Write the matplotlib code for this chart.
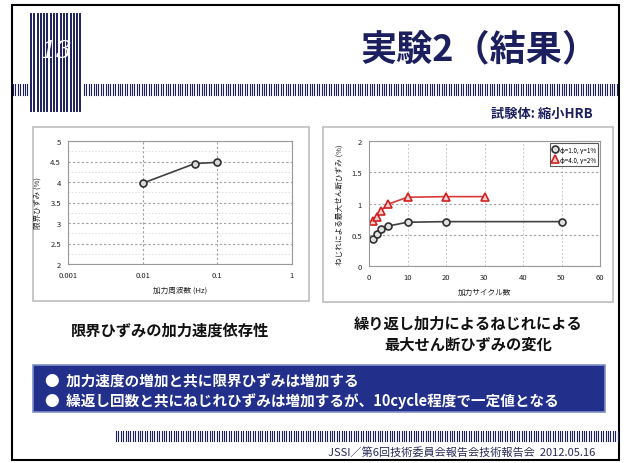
import numpy as np
import matplotlib.pyplot as plt
from matplotlib.patches import Rectangle
from matplotlib.ticker import FixedLocator

plt.rcParams['font.family'] = ['Noto Sans CJK JP', 'DejaVu Sans']

W, H = 626, 464
NAVY = '#1b1f5e'

# left chart: limit strain vs loading frequency
freq = [0.01, 0.05, 0.1]
limit_strain = [3.97, 4.45, 4.48]
freq_ticks = [0.001, 0.01, 0.1, 1]
freq_labels = ['0.001', '0.01', '0.1', '1']
strain_ticks = [2, 2.5, 3, 3.5, 4, 4.5, 5]
strain_labels = ['2', '2.5', '3', '3.5', '4', '4.5', '5']

# right chart: max shear strain vs number of cycles
cyc_a = [1, 2, 3, 5, 10, 20, 50]
strain_a = [0.44, 0.52, 0.60, 0.64, 0.70, 0.71, 0.71]
cyc_b = [1, 2, 3, 5, 10, 20, 30]
strain_b = [0.72, 0.79, 0.88, 0.99, 1.10, 1.11, 1.11]
cyc_ticks = [0, 10, 20, 30, 40, 50, 60]
shear_ticks = [0, 0.5, 1, 1.5, 2]
shear_labels = ['0', '0.5', '1', '1.5', '2']
legend_labels = ['φ=1.0, γ=1%', 'φ=4.0, γ=2%']


def box(x0, y0, x1, y1):
    # pixel box -> figure fraction rect
    return (x0 / W, 1 - y1 / H), (x1 - x0) / W, (y1 - y0) / H


def rect(fig, x0, y0, x1, y1, z=-1, **kw):
    xy, w, h = box(x0, y0, x1, y1)
    fig.patches.append(Rectangle(xy, w, h, transform=fig.transFigure, zorder=z, **kw))


def stripes(fig, x0, x1, y0, y1, step, lw, color):
    xs = np.arange(x0, x1, step) / W
    for x in xs:
        fig.add_artist(plt.Line2D([x, x], [1 - y0 / H, 1 - y1 / H], color=color,
                                  lw=lw, transform=fig.transFigure, zorder=-0.5))


fig = plt.figure(figsize=(W / 100, H / 100), dpi=100)

# slide frame
rect(fig, 12, 6, 619, 461, z=-2, facecolor='white', edgecolor='black', lw=1.5)

# header bands
stripes(fig, 13, 30, 85, 96, 2.4, 0.8, NAVY)
stripes(fig, 84, 619, 85, 96, 2.4, 0.8, NAVY)
stripes(fig, 31, 82, 15, 112, 3.3, 1.4, NAVY)
fig.text(56 / W, 1 - 52 / H, '13', color='white', fontsize=18, style='italic',
         family='DejaVu Serif', ha='center', va='center')

fig.text(598 / W, 1 - 50 / H, '実験2（結果）', color=NAVY, fontsize=26,
         fontweight='bold', ha='right', va='center')
fig.text(593 / W, 1 - 114 / H, '試験体: 縮小HRB', color=NAVY, fontsize=9.5,
         fontweight='bold', ha='right', va='center')

# chart panels
rect(fig, 33, 128, 309, 302, facecolor='white', edgecolor='#bdbdbd', lw=1.2)
rect(fig, 323, 128, 613, 303, facecolor='white', edgecolor='#bdbdbd', lw=1.2)

# left chart
xy, w, h = box(68, 142, 292, 265)
ax1 = fig.add_axes([xy[0], xy[1], w, h])
ax1.plot(freq, limit_strain, color='#404040', lw=1.2, marker='o', ms=5,
         mfc='#d9d9d9', mec='#303030', mew=1.2)
ax1.set_xscale('log')
ax1.set_xlim(0.001, 1)
ax1.set_ylim(2, 5)
ax1.xaxis.set_major_locator(FixedLocator(freq_ticks))
ax1.set_xticklabels(freq_labels)
ax1.xaxis.set_minor_locator(FixedLocator([]))
ax1.yaxis.set_major_locator(FixedLocator(strain_ticks))
ax1.set_yticklabels(strain_labels)
ax1.yaxis.set_minor_locator(FixedLocator([t + 0.25 for t in strain_ticks[:-1]]))
ax1.grid(axis='y', which='major', color='#a0a0a0', ls=(0, (2, 2)), lw=0.8)
ax1.grid(axis='y', which='minor', color='#dcdcdc', ls=(0, (2, 2)), lw=0.6)
ax1.grid(axis='x', which='major', color='#a0a0a0', ls=(0, (2, 2)), lw=0.8)
ax1.tick_params(which='both', length=0, labelsize=5.5, colors='#222222', pad=5)
for s in ax1.spines.values():
    s.set_color('#999999')
    s.set_linewidth(0.8)
ax1.set_xlabel('加力周波数 (Hz)', fontsize=5.5, labelpad=5, color='#222222')
ax1.set_ylabel('限界ひずみ (%)', fontsize=5.5, labelpad=6, color='#222222')

# right chart
xy, w, h = box(369, 142, 600, 267)
ax2 = fig.add_axes([xy[0], xy[1], w, h])
ax2.plot(cyc_a, strain_a, color='#404040', lw=1.2, marker='o', ms=5,
         mfc='#e0e0e0', mec='#303030', mew=1.2, label=legend_labels[0])
ax2.plot(cyc_b, strain_b, color='#d83a3a', lw=1.2, marker='^', ms=5.5,
         mfc='#f6d0d0', mec='#d02020', mew=1.2, label=legend_labels[1])
ax2.set_xlim(0, 60)
ax2.set_ylim(0, 2)
ax2.xaxis.set_major_locator(FixedLocator(cyc_ticks))
ax2.yaxis.set_major_locator(FixedLocator(shear_ticks))
ax2.set_yticklabels(shear_labels)
ax2.grid(axis='y', color='#a0a0a0', ls=(0, (2, 2)), lw=0.8)
ax2.grid(axis='x', color='#c8c8c8', ls=(0, (2, 2)), lw=0.7)
ax2.tick_params(length=0, labelsize=5.5, colors='#222222', pad=5)
for s in ax2.spines.values():
    s.set_color('#999999')
    s.set_linewidth(0.8)
ax2.set_xlabel('加力サイクル数', fontsize=5.5, labelpad=5, color='#222222')
ax2.set_ylabel('ねじれによる最大せん断ひずみ (%)', fontsize=5.5, labelpad=6,
               color='#222222')
leg = ax2.legend(loc='upper right', fontsize=4.5, frameon=True, fancybox=False,
                 handlelength=0.8, handletextpad=0.4, borderpad=0.4,
                 labelspacing=0.3, borderaxespad=0.3)
leg.get_frame().set_edgecolor('#303030')
leg.get_frame().set_linewidth(0.8)
for hnd in leg.legend_handles:
    hnd.set_linestyle('none')

# captions
fig.text(170 / W, 1 - 331 / H, '限界ひずみの加力速度依存性', fontsize=11,
         fontweight='bold', ha='center', va='center', color='#111111')
fig.text(468 / W, 1 - 334 / H, '繰り返し加力によるねじれによる\n最大せん断ひずみの変化',
         fontsize=11, fontweight='bold', ha='center', va='center',
         color='#111111', linespacing=1.35)

# summary box
rect(fig, 33, 366, 605, 413, facecolor='#22308c', edgecolor='#8090c8', lw=1.2)
fig.text(45 / W, 1 - 381 / H, '●  加力速度の増加と共に限界ひずみは増加する',
         fontsize=10.5, fontweight='bold', color='white', va='center', ha='left')
fig.text(45 / W, 1 - 401 / H,
         '●  繰返し回数と共にねじれひずみは増加するが、10cycle程度で一定値となる',
         fontsize=10.5, fontweight='bold', color='white', va='center', ha='left')

# footer
stripes(fig, 116, 619, 432, 442, 2.4, 0.8, NAVY)
fig.text(595 / W, 1 - 453 / H, 'JSSI／第6回技術委員会報告会技術報告会  2012.05.16',
         fontsize=8, color='#2a2a5a', ha='right', va='center')

fig.savefig('out.png', dpi=100)
